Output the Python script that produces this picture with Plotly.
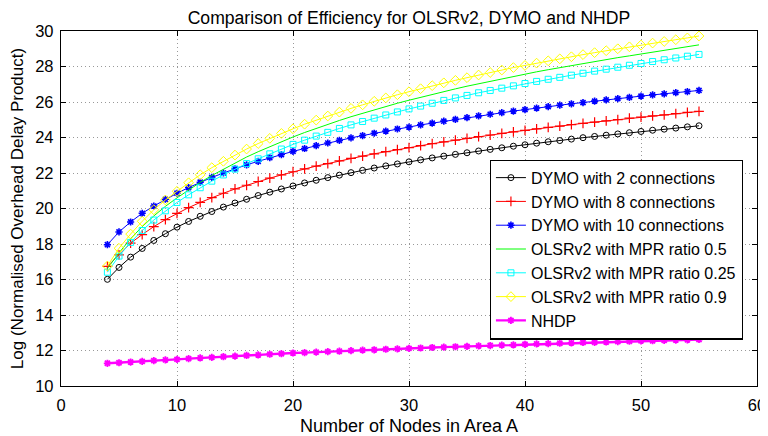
import plotly.graph_objects as go

nodes = list(range(4, 56))

dymo_2 = [16.01, 16.68, 17.26, 17.75, 18.20, 18.58, 18.95, 19.27, 19.56, 19.83,
          20.08, 20.31, 20.52, 20.73, 20.92, 21.10, 21.27, 21.44, 21.59, 21.74,
          21.88, 22.02, 22.15, 22.28, 22.40, 22.51, 22.63, 22.74, 22.85, 22.95,
          23.05, 23.14, 23.24, 23.33, 23.42, 23.51, 23.59, 23.68, 23.76, 23.83,
          23.91, 23.99, 24.06, 24.13, 24.20, 24.27, 24.34, 24.41, 24.47, 24.53,
          24.60, 24.66]

dymo_8 = [16.74, 17.39, 18.05, 18.53, 18.98, 19.37, 19.73, 20.05, 20.34, 20.61,
          20.86, 21.10, 21.31, 21.52, 21.71, 21.89, 22.07, 22.23, 22.39, 22.53,
          22.68, 22.82, 22.95, 23.08, 23.20, 23.32, 23.43, 23.54, 23.65, 23.75,
          23.85, 23.95, 24.05, 24.14, 24.23, 24.32, 24.40, 24.49, 24.57, 24.64,
          24.72, 24.80, 24.87, 24.94, 25.01, 25.09, 25.15, 25.22, 25.28, 25.35,
          25.41, 25.47]

dymo_10 = [17.96, 18.68, 19.24, 19.73, 20.14, 20.52, 20.86, 21.18, 21.48, 21.75,
           22.00, 22.24, 22.46, 22.66, 22.86, 23.04, 23.22, 23.38, 23.54, 23.69,
           23.84, 23.98, 24.11, 24.24, 24.36, 24.48, 24.59, 24.71, 24.81, 24.92,
           25.02, 25.12, 25.22, 25.31, 25.40, 25.49, 25.57, 25.66, 25.74, 25.82,
           25.90, 25.97, 26.05, 26.12, 26.19, 26.26, 26.33, 26.40, 26.46, 26.53,
           26.59, 26.65]

olsr_05 = [16.62, 17.50, 18.30, 18.98, 19.58, 20.12, 20.60, 21.05, 21.47, 21.86,
           22.22, 22.57, 22.90, 23.20, 23.49, 23.77, 24.03, 24.28, 24.52, 24.74,
           24.96, 25.17, 25.37, 25.56, 25.75, 25.93, 26.10, 26.27, 26.43, 26.59,
           26.74, 26.89, 27.03, 27.17, 27.31, 27.44, 27.57, 27.70, 27.82, 27.94,
           28.05, 28.17, 28.28, 28.39, 28.50, 28.60, 28.71, 28.81, 28.91, 29.01,
           29.11, 29.22]

olsr_025 = [16.41, 17.32, 18.09, 18.76, 19.35, 19.87, 20.34, 20.77, 21.17, 21.54,
            21.89, 22.22, 22.53, 22.80, 23.08, 23.35, 23.61, 23.85, 24.08, 24.29,
            24.51, 24.71, 24.90, 25.09, 25.27, 25.44, 25.61, 25.77, 25.93, 26.09,
            26.23, 26.37, 26.52, 26.65, 26.78, 26.91, 27.04, 27.16, 27.28, 27.39,
            27.51, 27.62, 27.74, 27.85, 27.96, 28.07, 28.17, 28.28, 28.38, 28.48,
            28.58, 28.68]

olsr_09 = [16.76, 17.76, 18.56, 19.28, 19.93, 20.48, 20.97, 21.45, 21.90, 22.30,
           22.66, 23.01, 23.35, 23.66, 23.95, 24.23, 24.49, 24.75, 24.98, 25.21,
           25.43, 25.64, 25.84, 26.04, 26.23, 26.41, 26.58, 26.75, 26.92, 27.08,
           27.22, 27.37, 27.52, 27.66, 27.80, 27.94, 28.06, 28.19, 28.32, 28.43,
           28.55, 28.67, 28.78, 28.89, 29.00, 29.11, 29.21, 29.32, 29.41, 29.51,
           29.61, 29.72]

nhdp = [11.28, 11.31, 11.35, 11.39, 11.43, 11.47, 11.50, 11.54, 11.58, 11.61,
        11.65, 11.68, 11.72, 11.75, 11.79, 11.82, 11.86, 11.88, 11.91, 11.94,
        11.96, 11.99, 12.02, 12.04, 12.07, 12.09, 12.12, 12.14, 12.17, 12.19,
        12.21, 12.23, 12.26, 12.28, 12.30, 12.32, 12.35, 12.37, 12.39, 12.41,
        12.43, 12.45, 12.46, 12.48, 12.50, 12.52, 12.54, 12.55, 12.57, 12.59,
        12.60, 12.62]

FONT = "Liberation Sans, Arial, Helvetica, sans-serif"

fig = go.Figure()

def add(name, y, color, symbol=None, msize=6, lw=1.0, mlw=1.0):
    mode = "lines+markers" if symbol else "lines"
    marker = None
    if symbol:
        marker = dict(symbol=symbol, size=msize, color=color,
                      line=dict(color=color, width=mlw))
    fig.add_trace(go.Scatter(x=nodes, y=y, name=name, mode=mode,
                             line=dict(color=color, width=lw),
                             marker=marker))

add("DYMO with 2 connections", dymo_2, "#000000", "circle-open", 6)
add("DYMO with 8 connections", dymo_8, "#ff0000", "cross-thin-open", 7, mlw=1.2)
add("DYMO with 10 connections", dymo_10, "#0000ff", "asterisk-open", 6, mlw=1.6)
add("OLSRv2 with MPR ratio 0.5", olsr_05, "#00ff00", None)
add("OLSRv2 with MPR ratio 0.25", olsr_025, "#00ffff", "square-open", 6)
add("OLSRv2 with MPR ratio 0.9", olsr_09, "#ffff00", "diamond-open", 7.5)
add("NHDP", nhdp, "#ff00ff", "asterisk-open", 6, lw=2.4, mlw=1.8)

axis_common = dict(
    showline=True, linecolor="black", linewidth=1.4, mirror="ticks",
    ticks="inside", ticklen=5, tickcolor="black", tickwidth=1,
    showgrid=True, gridcolor="#999999", griddash="1px,3px", gridwidth=1,
    zeroline=False, automargin=False,
    tickfont=dict(family=FONT, size=16.5, color="black"),
)

# the page body adds an 8px offset, so the figure is 760x428 placed at (8, 8)
fig.update_layout(
    width=760, height=428,
    margin=dict(l=53, r=11, t=23, b=50),
    paper_bgcolor="white", plot_bgcolor="white",
    title=dict(text="Comparison of Efficiency for OLSRv2, DYMO and NHDP",
               font=dict(family=FONT, size=17.6, color="black"),
               x=0.5276, xref="container", xanchor="center",
               y=0.978, yref="container", yanchor="middle"),
    xaxis=dict(range=[0, 60], dtick=10, tick0=0,
               title=dict(text="Number of Nodes in Area A",
                          font=dict(family=FONT, size=18, color="black"),
                          standoff=8),
               ticklabelstandoff=4, **axis_common),
    yaxis=dict(range=[10, 30], dtick=2, tick0=10,
               title=dict(text="Log (Normalised Overhead Delay Product)",
                          font=dict(family=FONT, size=17, color="black"),
                          standoff=7),
               ticklabelstandoff=3, **axis_common),
    legend=dict(x=0.9795, y=0.638, xanchor="right", yanchor="top",
                bgcolor="white", bordercolor="black", borderwidth=1.2,
                font=dict(family=FONT, size=16, color="black"),
                itemwidth=30, tracegroupgap=0),
    showlegend=True,
)

fig.write_html("out.html")
